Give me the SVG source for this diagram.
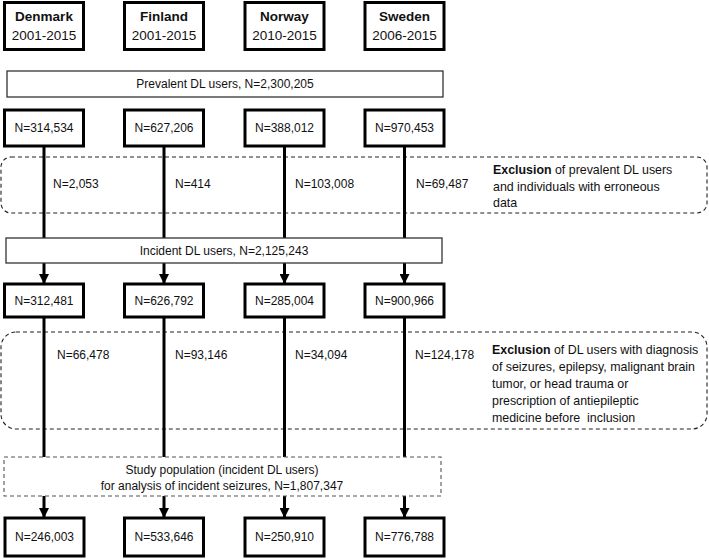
<svg xmlns="http://www.w3.org/2000/svg" width="709" height="559" viewBox="0 0 709 559">
<defs>
<style>
text{font-family:"Liberation Sans",Arial,sans-serif;font-size:12px;fill:#111}
.c{text-anchor:middle}
.b{font-weight:bold}
.ex{font-size:12.4px}
.thick{fill:#fff;stroke:#000;stroke-width:3}
.thin{fill:#fff;stroke:#333;stroke-width:1.3}
.dash{fill:none;stroke:#222;stroke-width:1.1;stroke-dasharray:4,3}
.sdash{fill:#fff;stroke:#555;stroke-width:1.1;stroke-dasharray:4,3}
.ln{stroke:#000;stroke-width:3;fill:none}
</style>
<marker id="arr" markerWidth="11" markerHeight="10" refX="9" refY="5" orient="auto" markerUnits="userSpaceOnUse">
<path d="M0,0 L10,5 L0,10 Z" fill="#000"/>
</marker>
</defs>

<g id="exclusion1">
<rect class="dash" x="1" y="157" width="706" height="56" rx="10"/>
<text class="ex" x="493" y="174"><tspan class="b">Exclusion</tspan> of prevalent DL users</text>
<text class="ex" x="493" y="191">and individuals with erroneous</text>
<text class="ex" x="493" y="207">data</text>
</g>
<g id="exclusion2">
<rect class="dash" x="1" y="332" width="706" height="97" rx="15"/>
<text class="ex" x="492" y="354"><tspan class="b">Exclusion</tspan> of DL users with diagnosis</text>
<text class="ex" x="492" y="371">of seizures, epilepsy, malignant brain</text>
<text class="ex" x="492" y="388">tumor, or head trauma or</text>
<text class="ex" x="492" y="405">prescription of antiepileptic</text>
<text class="ex" x="492" y="422" xml:space="preserve">medicine before  inclusion</text>
</g>

<g id="connectors">
<line class="ln" x1="44" y1="146" x2="44" y2="238"/>
<line class="ln" x1="164" y1="146" x2="164" y2="238"/>
<line class="ln" x1="284.5" y1="146" x2="284.5" y2="238"/>
<line class="ln" x1="404.5" y1="146" x2="404.5" y2="238"/>
<line class="ln" x1="44" y1="263" x2="44" y2="283" marker-end="url(#arr)"/>
<line class="ln" x1="164" y1="263" x2="164" y2="283" marker-end="url(#arr)"/>
<line class="ln" x1="284.5" y1="263" x2="284.5" y2="283" marker-end="url(#arr)"/>
<line class="ln" x1="404.5" y1="263" x2="404.5" y2="283" marker-end="url(#arr)"/>
<line class="ln" x1="44" y1="317" x2="44" y2="457"/>
<line class="ln" x1="164" y1="317" x2="164" y2="457"/>
<line class="ln" x1="284.5" y1="317" x2="284.5" y2="457"/>
<line class="ln" x1="404.5" y1="317" x2="404.5" y2="457"/>
<line class="ln" x1="44" y1="496" x2="44" y2="517" marker-end="url(#arr)"/>
<line class="ln" x1="164" y1="496" x2="164" y2="517" marker-end="url(#arr)"/>
<line class="ln" x1="284.5" y1="496" x2="284.5" y2="517" marker-end="url(#arr)"/>
<line class="ln" x1="404.5" y1="496" x2="404.5" y2="517" marker-end="url(#arr)"/>
</g>

<g id="exclusion-counts">
<text x="53" y="188">N=2,053</text>
<text x="175" y="188">N=414</text>
<text x="295" y="188">N=103,008</text>
<text x="416" y="188">N=69,487</text>
<text x="57" y="359">N=66,478</text>
<text x="175" y="359">N=93,146</text>
<text x="295" y="359">N=34,094</text>
<text x="415" y="359">N=124,178</text>
</g>

<g id="denmark"><rect class="thick" x="4.5" y="2.5" width="79" height="47"/><text class="c b" x="44" y="21" style="font-size:13.5px">Denmark</text><text class="c" x="44" y="40" style="font-size:13.5px">2001-2015</text></g>
<g id="finland"><rect class="thick" x="124.5" y="2.5" width="79" height="47"/><text class="c b" x="164" y="21" style="font-size:13.5px">Finland</text><text class="c" x="164" y="40" style="font-size:13.5px">2001-2015</text></g>
<g id="norway"><rect class="thick" x="245" y="2.5" width="79" height="47"/><text class="c b" x="284.5" y="21" style="font-size:13.5px">Norway</text><text class="c" x="284.5" y="40" style="font-size:13.5px">2010-2015</text></g>
<g id="sweden"><rect class="thick" x="365" y="2.5" width="79" height="47"/><text class="c b" x="404.5" y="21" style="font-size:13.5px">Sweden</text><text class="c" x="404.5" y="40" style="font-size:13.5px">2006-2015</text></g>

<g id="prevalent"><rect class="thin" x="7" y="71" width="436" height="26"/><text class="c" x="225" y="88">Prevalent DL users, N=2,300,205</text></g>

<g id="dk1"><rect class="thick" x="4.5" y="110" width="79" height="36"/><text class="c" x="44" y="132">N=314,534</text></g>
<g id="fi1"><rect class="thick" x="124.5" y="110" width="79" height="36"/><text class="c" x="164" y="132">N=627,206</text></g>
<g id="no1"><rect class="thick" x="245" y="110" width="79" height="36"/><text class="c" x="284.5" y="132">N=388,012</text></g>
<g id="se1"><rect class="thick" x="365" y="110" width="79" height="36"/><text class="c" x="404.5" y="132">N=970,453</text></g>

<g id="incident"><rect class="thin" x="6" y="238" width="436" height="25"/><text class="c" x="224" y="255">Incident DL users, N=2,125,243</text></g>

<g id="dk2"><rect class="thick" x="4.5" y="284" width="79" height="33"/><text class="c" x="44" y="305">N=312,481</text></g>
<g id="fi2"><rect class="thick" x="124.5" y="284" width="79" height="33"/><text class="c" x="164" y="305">N=626,792</text></g>
<g id="no2"><rect class="thick" x="245" y="284" width="79" height="33"/><text class="c" x="284.5" y="305">N=285,004</text></g>
<g id="se2"><rect class="thick" x="365" y="284" width="79" height="33"/><text class="c" x="404.5" y="305">N=900,966</text></g>

<g id="study"><rect class="sdash" x="4" y="457" width="437" height="39"/><text class="c" x="222" y="474">Study population (incident DL users)</text><text class="c" x="222" y="490">for analysis of incident seizures, N=1,807,347</text></g>

<g id="dk3"><rect class="thick" x="5" y="518" width="79" height="38"/><text class="c" x="44.5" y="541">N=246,003</text></g>
<g id="fi3"><rect class="thick" x="124.5" y="518" width="79" height="38"/><text class="c" x="164" y="541">N=533,646</text></g>
<g id="no3"><rect class="thick" x="245" y="518" width="79" height="38"/><text class="c" x="284.5" y="541">N=250,910</text></g>
<g id="se3"><rect class="thick" x="365" y="518" width="79" height="38"/><text class="c" x="404.5" y="541">N=776,788</text></g>
</svg>
